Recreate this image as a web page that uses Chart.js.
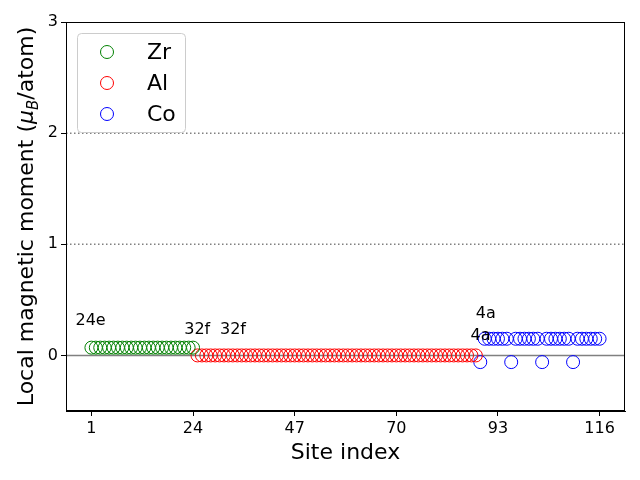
<!DOCTYPE html>
<html>
<head>
<meta charset="utf-8">
<script src="https://cdn.jsdelivr.net/npm/chart.js@4"></script>
<style>
  html, body { margin: 0; padding: 0; background: #fff; }
  #wrap { width: 640px; height: 480px; }
</style>
</head>
<body>
<div id="wrap"><canvas id="momentChart" width="640" height="480"></canvas></div>
<script>
// Site indices and local moments per element
const zrSites = [1, 2, 3, 4, 5, 6, 7, 8, 9, 10, 11, 12, 13, 14, 15, 16, 17, 18, 19, 20, 21, 22, 23, 24];
const zrMoments = [0.07, 0.07, 0.07, 0.07, 0.07, 0.07, 0.07, 0.07, 0.07, 0.07, 0.07, 0.07,
                   0.07, 0.07, 0.07, 0.07, 0.07, 0.07, 0.07, 0.07, 0.07, 0.07, 0.07, 0.07];

const alSites = [25, 26, 27, 28, 29, 30, 31, 32, 33, 34, 35, 36, 37, 38, 39, 40,
                 41, 42, 43, 44, 45, 46, 47, 48, 49, 50, 51, 52, 53, 54, 55, 56,
                 57, 58, 59, 60, 61, 62, 63, 64, 65, 66, 67, 68, 69, 70, 71, 72,
                 73, 74, 75, 76, 77, 78, 79, 80, 81, 82, 83, 84, 85, 86, 87, 88];
const alMoments = [0, 0, 0, 0, 0, 0, 0, 0, 0, 0, 0, 0, 0, 0, 0, 0,
                   0, 0, 0, 0, 0, 0, 0, 0, 0, 0, 0, 0, 0, 0, 0, 0,
                   0, 0, 0, 0, 0, 0, 0, 0, 0, 0, 0, 0, 0, 0, 0, 0,
                   0, 0, 0, 0, 0, 0, 0, 0, 0, 0, 0, 0, 0, 0, 0, 0];

const coSites = [89, 90, 91, 92, 93, 94, 95, 96, 97, 98, 99, 100, 101, 102,
                 103, 104, 105, 106, 107, 108, 109, 110, 111, 112, 113, 114, 115, 116];
const coMoments = [-0.06, 0.15, 0.15, 0.15, 0.15, 0.15, 0.15,
                   -0.06, 0.15, 0.15, 0.15, 0.15, 0.15, 0.15,
                   -0.06, 0.15, 0.15, 0.15, 0.15, 0.15, 0.15,
                   -0.06, 0.15, 0.15, 0.15, 0.15, 0.15, 0.15];

const xTicks = [1, 24, 47, 70, 93, 116];
const yTicks = [0, 1, 2, 3];
const dottedLevels = [1, 2];

// Wyckoff labels: text, site index, moment
const siteLabels = ['24e', '32f', '32f', '4a', '4a'];
const siteLabelX = [-2.6, 22.0, 30.1, 88.0, 86.8];
const siteLabelY = [0.27, 0.19, 0.19, 0.34, 0.135];

const FONT = "'DejaVu Sans', sans-serif";

function toPoints(xs, ys) {
    return xs.map((x, i) => ({ x: x, y: ys[i] }));
}

// reference lines under the markers
const refLines = {
    id: 'refLines',
    beforeDatasetsDraw(chart) {
        const { ctx, chartArea: a, scales: { y } } = chart;
        ctx.save();
        ctx.strokeStyle = '#808080';
        ctx.lineWidth = 1.5;
        ctx.setLineDash([1.5, 2.5]);
        dottedLevels.forEach(v => {
            const py = y.getPixelForValue(v);
            ctx.beginPath();
            ctx.moveTo(a.left, py);
            ctx.lineTo(a.right, py);
            ctx.stroke();
        });
        ctx.setLineDash([]);
        const p0 = y.getPixelForValue(0);
        ctx.beginPath();
        ctx.moveTo(a.left, p0);
        ctx.lineTo(a.right, p0);
        ctx.stroke();
        ctx.restore();
    }
};

// frame, annotations, legend and y title
const extras = {
    id: 'extras',
    afterDraw(chart) {
        const { ctx, chartArea: a, scales: { x, y } } = chart;
        ctx.save();

        ctx.strokeStyle = '#000';
        ctx.lineWidth = 1;
        ctx.strokeRect(a.left + 0.5, a.top + 0.5, a.right - a.left - 1, a.bottom - a.top - 1);

        ctx.fillStyle = '#000';
        ctx.font = '16px ' + FONT;
        ctx.textAlign = 'left';
        ctx.textBaseline = 'alphabetic';
        siteLabels.forEach((t, i) => {
            ctx.fillText(t, x.getPixelForValue(siteLabelX[i]), y.getPixelForValue(siteLabelY[i]));
        });

        // legend box
        const lx = 77, ly = 33, lw = 108, lh = 99;
        ctx.beginPath();
        ctx.roundRect(lx + 0.5, ly + 0.5, lw, lh, 4);
        ctx.fillStyle = 'rgba(255,255,255,0.8)';
        ctx.fill();
        ctx.strokeStyle = '#cccccc';
        ctx.stroke();
        ctx.font = '22px ' + FONT;
        ctx.textBaseline = 'middle';
        chart.data.datasets.forEach((ds, i) => {
            const cy = 52 + i * 31;
            ctx.beginPath();
            ctx.arc(107, cy, 6.5, 0, Math.PI * 2);
            ctx.strokeStyle = ds.borderColor;
            ctx.lineWidth = 1;
            ctx.stroke();
            ctx.fillStyle = '#000';
            ctx.fillText(ds.label, 147, cy + 1);
        });

        // y axis title with mu_B
        const parts = [
            { t: 'Local magnetic moment (', f: '22px ' + FONT, dy: 0 },
            { t: 'μ', f: 'italic 22px ' + FONT, dy: 0 },
            { t: 'B', f: 'italic 15px ' + FONT, dy: 5 },
            { t: '/atom)', f: '22px ' + FONT, dy: 0 }
        ];
        let total = 0;
        parts.forEach(p => { ctx.font = p.f; p.w = ctx.measureText(p.t).width; total += p.w; });
        ctx.translate(33, (a.top + a.bottom) / 2);
        ctx.rotate(-Math.PI / 2);
        ctx.fillStyle = '#000';
        ctx.textBaseline = 'alphabetic';
        let cx = -total / 2;
        parts.forEach(p => {
            ctx.font = p.f;
            ctx.fillText(p.t, cx, p.dy);
            cx += p.w;
        });
        ctx.restore();
    }
};

document.addEventListener('DOMContentLoaded', function() {
    const ctx = document.getElementById('momentChart').getContext('2d');
    new Chart(ctx, {
        type: 'scatter',
        data: {
            datasets: [
                {
                    label: 'Zr',
                    data: toPoints(zrSites, zrMoments),
                    borderColor: '#008000',
                    backgroundColor: 'rgba(0,0,0,0)',
                    borderWidth: 1,
                    pointRadius: 6.5
                },
                {
                    label: 'Al',
                    data: toPoints(alSites, alMoments),
                    borderColor: '#ff0000',
                    backgroundColor: 'rgba(0,0,0,0)',
                    borderWidth: 1,
                    pointRadius: 6.5
                },
                {
                    label: 'Co',
                    data: toPoints(coSites, coMoments),
                    borderColor: '#0000ff',
                    backgroundColor: 'rgba(0,0,0,0)',
                    borderWidth: 1,
                    pointRadius: 6.5
                }
            ]
        },
        options: {
            responsive: false,
            animation: false,
            layout: { padding: { top: 22, right: 15, left: 0, bottom: 0 } },
            plugins: {
                legend: { display: false },
                tooltip: { enabled: false }
            },
            scales: {
                x: {
                    type: 'linear',
                    min: -4.75,
                    max: 121.75,
                    afterBuildTicks: s => { s.ticks = xTicks.map(v => ({ value: v })); },
                    afterFit: s => { s.height = 69; },
                    grid: { drawOnChartArea: false, color: '#000', tickLength: 5 },
                    border: { color: '#000' },
                    ticks: {
                        color: '#000',
                        padding: 3,
                        maxRotation: 0,
                        font: { family: FONT, size: 16 }
                    },
                    title: {
                        display: true,
                        text: 'Site index',
                        color: '#000',
                        padding: { top: 4, bottom: 14 },
                        font: { family: FONT, size: 22 }
                    }
                },
                y: {
                    min: -0.5,
                    max: 3,
                    afterBuildTicks: s => { s.ticks = yTicks.map(v => ({ value: v })); },
                    afterFit: s => { s.width = 66; },
                    grid: { drawOnChartArea: false, color: '#000', tickLength: 5 },
                    border: { color: '#000' },
                    ticks: {
                        color: '#000',
                        padding: 3,
                        font: { family: FONT, size: 16 }
                    }
                }
            }
        },
        plugins: [refLines, extras]
    });
});
</script>
</body>
</html>
